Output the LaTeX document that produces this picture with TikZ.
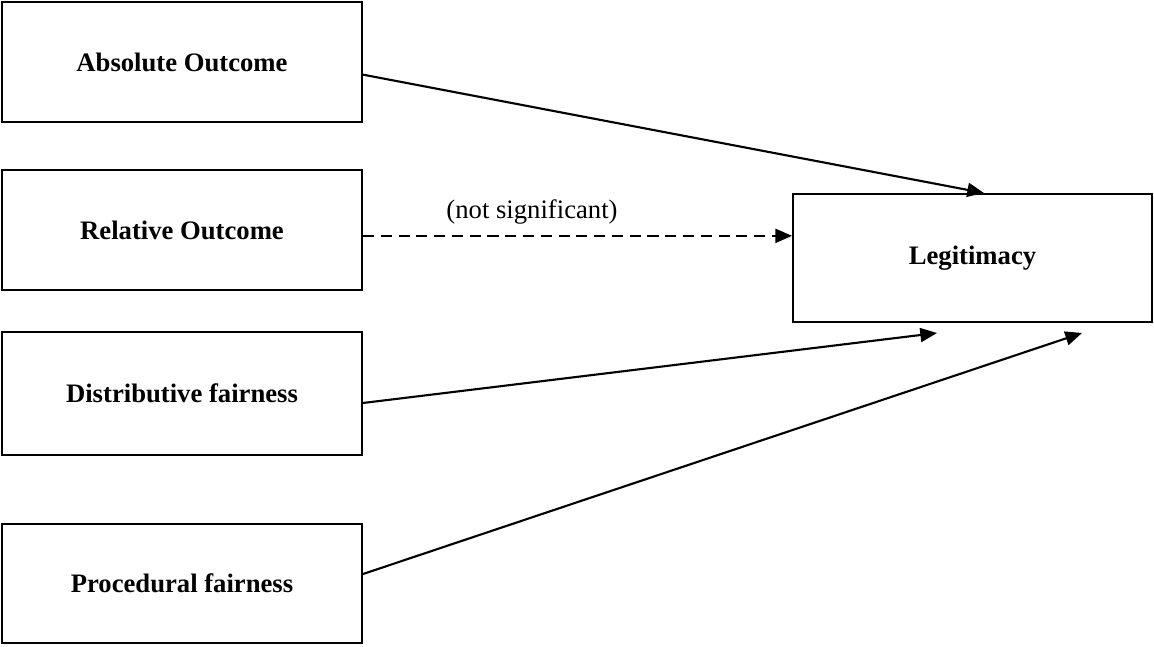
\documentclass[tikz,border=0pt]{standalone}
\usepackage{fontspec}
\setmainfont{Liberation Serif}
\usetikzlibrary{arrows.meta}
\begin{document}
\begin{tikzpicture}[x=0.45pt, y=-0.45pt, every node/.style={font=\fontsize{12}{14}\selectfont},
	box/.style={draw, line width=0.9pt, minimum width=162pt, font=\fontsize{12}{14}\selectfont\bfseries},
	link/.style={line width=0.95pt, -{Triangle[length=7.5pt, width=6.3pt]}}]
	\useasboundingbox (0,0) rectangle (1154,647);
	\node[box, minimum height=54pt] (absolute) at (182,62) {Absolute Outcome};
	\node[box, minimum height=54pt] (relative) at (182,230) {Relative Outcome};
	\node[box, minimum height=55.3pt] (distributive) at (182,393.5) {Distributive fairness};
	\node[box, minimum height=53.5pt] (procedural) at (182,583.5) {Procedural fairness};
	\node[box, minimum width=161.5pt, minimum height=57.6pt] (legit) at (972.5,258) {Legitimacy};
	\node (ns) at (532,212) {(not significant)};
	\coordinate (distend) at (937,333);
	\coordinate (procend) at (1082,333);
	
	\draw[link] (absolute.-4.6) -- (legit.80.7);
	\draw[link, dash pattern=on 5pt off 3pt] (legit.173 -| relative.east) -- (legit.173);
	\draw[link] (distributive.-3.6) -- (distend);
	\draw[link] (procedural.3.0) -- (procend);
\end{tikzpicture}
\end{document}
